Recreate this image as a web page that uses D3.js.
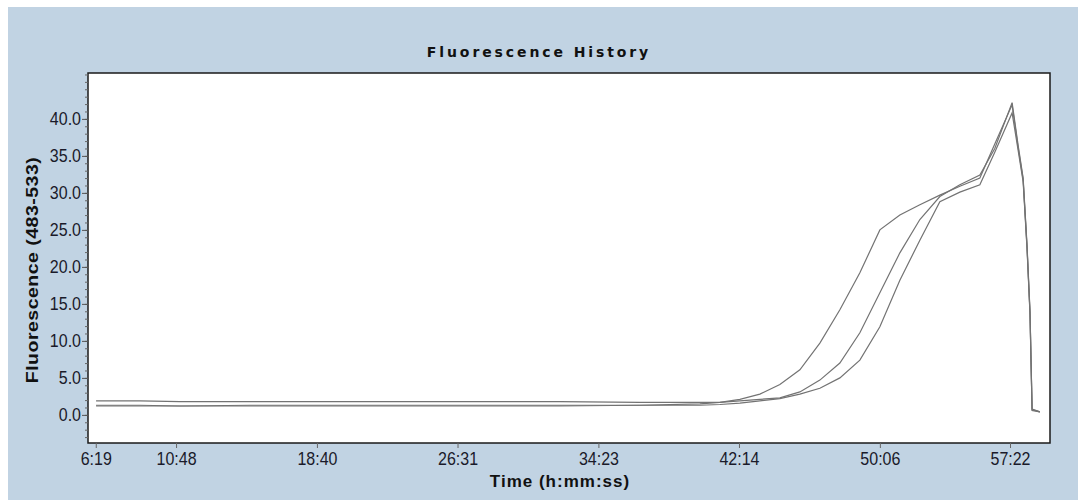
<!DOCTYPE html>
<html>
<head>
<meta charset="utf-8">
<script src="https://cdn.jsdelivr.net/npm/d3@7"></script>
<style>
  html, body { margin: 0; padding: 0; background: #ffffff; }
  svg { display: block; }
</style>
</head>
<body>
<svg id="chart" width="1078" height="500"></svg>
<script>
// ---- data ----
const chartTitle = "Fluorescence History";
const xTitle = "Time (h:mm:ss)";
const yTitle = "Fluorescence (483-533)";
const xTickLabels = ["6:19", "10:48", "18:40", "26:31", "34:23", "42:14", "50:06", "57:22"];
const yTickValues = [0, 5, 10, 15, 20, 25, 30, 35, 40];
// sample times in seconds
const times = [380, 527, 661, 896, 1130, 1398, 1666, 1934, 2202, 2403, 2470, 2537, 2604, 2671, 2738, 2805,
  2872, 2939, 3006, 3073, 3140, 3207, 3274, 3341, 3391, 3449, 3469, 3486, 3499, 3509, 3516, 3542];
const seriesA = [1.3, 1.3, 1.2, 1.2, 1.2, 1.2, 1.2, 1.2, 1.3, 1.5, 1.7, 2.1, 2.8, 4.1, 6.1, 9.7,
  14.2, 19.2, 25.0, 27.0, 28.4, 29.7, 30.9, 32.0, 36.6, 41.9, 36.2, 31.8, 22.7, 13.8, 0.7, 0.4];
const seriesB = [1.9, 1.9, 1.8, 1.8, 1.8, 1.8, 1.8, 1.8, 1.7, 1.7, 1.7, 1.9, 2.1, 2.3, 3.1, 4.7,
  7.0, 11.1, 16.5, 21.9, 26.4, 29.5, 31.1, 32.4, 36.0, 42.2, 36.5, 32.0, 23.0, 14.0, 0.8, 0.4];
const seriesC = [1.2, 1.2, 1.2, 1.3, 1.3, 1.3, 1.3, 1.3, 1.3, 1.3, 1.4, 1.6, 1.9, 2.2, 2.8, 3.6,
  5.0, 7.4, 11.9, 18.2, 23.6, 28.8, 30.1, 31.1, 35.5, 40.8, 35.8, 31.5, 22.5, 13.6, 0.6, 0.4];
const allSeries = [seriesA, seriesB, seriesC];

// ---- layout ----
const W = 1078, H = 500;
const plot = { left: 88, top: 73, right: 1050, bottom: 443 };
const toSec = s => { const p = s.split(":"); return (+p[0]) * 60 + (+p[1]); };
const xTickSecs = xTickLabels.map(toSec);

const svg = d3.select("#chart");
// outer panel
svg.append("rect").attr("x", 0).attr("y", 0).attr("width", W).attr("height", H).attr("fill", "#ffffff");
svg.append("rect").attr("x", 8).attr("y", 7).attr("width", W - 8).attr("height", H - 7).attr("fill", "#c1d3e3");

const x = d3.scaleLinear().domain([353, 3576]).range([plot.left, plot.right]);
const y = d3.scaleLinear().domain([-3.8, 46.2]).range([plot.bottom, plot.top]);

// plot background
svg.append("rect")
  .attr("x", plot.left).attr("y", plot.top)
  .attr("width", plot.right - plot.left).attr("height", plot.bottom - plot.top)
  .attr("fill", "#ffffff");

// lines
const line = d3.line().x((d, i) => x(times[i])).y(d => y(d));
svg.append("clipPath").attr("id", "clip").append("rect")
  .attr("x", plot.left).attr("y", plot.top)
  .attr("width", plot.right - plot.left).attr("height", plot.bottom - plot.top);
svg.append("g").attr("clip-path", "url(#clip)")
  .selectAll("path").data(allSeries).join("path")
  .attr("d", line)
  .attr("fill", "none")
  .attr("stroke", "#737373")
  .attr("stroke-width", 1.2);

// plot border
svg.append("rect")
  .attr("x", plot.left).attr("y", plot.top)
  .attr("width", plot.right - plot.left).attr("height", plot.bottom - plot.top)
  .attr("fill", "none").attr("stroke", "#1a1a1a").attr("stroke-width", 1.5);

const tickFont = "'Liberation Sans', Arial, sans-serif";

// x axis
const xAxis = d3.axisBottom(x).tickValues(xTickSecs)
  .tickFormat((d, i) => xTickLabels[i]).tickSize(5).tickPadding(3);
const gx = svg.append("g").attr("transform", `translate(0,${plot.bottom})`).call(xAxis);
gx.select(".domain").remove();
gx.selectAll(".tick line").attr("stroke", "#666");
gx.selectAll(".tick text").attr("font-family", tickFont).attr("font-size", 16)
  .attr("fill", "#1a1a2a").attr("transform", "scale(1,1.13)");

// y axis minor ticks
const yMinor = d3.axisLeft(y).tickValues(d3.range(-3, 47, 1)).tickSize(3).tickFormat("");
const gym = svg.append("g").attr("transform", `translate(${plot.left},0)`).call(yMinor);
gym.select(".domain").remove();
gym.selectAll(".tick line").attr("stroke", "#666");

// y axis major ticks
const yAxis = d3.axisLeft(y).tickValues(yTickValues).tickFormat(d3.format(".1f")).tickSize(6).tickPadding(1);
const gy = svg.append("g").attr("transform", `translate(${plot.left},0)`).call(yAxis);
gy.select(".domain").remove();
gy.selectAll(".tick line").attr("stroke", "#555");
gy.selectAll(".tick text").attr("font-family", tickFont).attr("font-size", 16)
  .attr("fill", "#1a1a2a").attr("transform", "scale(1,1.13)");

// titles
svg.append("text")
  .attr("x", 539).attr("y", 57)
  .attr("text-anchor", "middle")
  .attr("font-family", "'DejaVu Sans', Verdana, sans-serif")
  .attr("font-weight", "bold").attr("font-size", 14)
  .attr("letter-spacing", "2.9px")
  .attr("fill", "#111")
  .text(chartTitle);

svg.append("text")
  .attr("x", 560).attr("y", 487)
  .attr("text-anchor", "middle")
  .attr("font-family", "'Liberation Sans', Arial, sans-serif")
  .attr("font-weight", "bold").attr("font-size", 17)
  .attr("letter-spacing", "1px")
  .attr("fill", "#111")
  .text(xTitle);

svg.append("text")
  .attr("transform", "translate(38,270) rotate(-90) scale(1.22,1)")
  .attr("text-anchor", "middle")
  .attr("font-family", "'Liberation Sans', Arial, sans-serif")
  .attr("font-weight", "bold").attr("font-size", 16)
  .attr("letter-spacing", "0.4px")
  .attr("fill", "#111")
  .text(yTitle);
</script>
</body>
</html>
